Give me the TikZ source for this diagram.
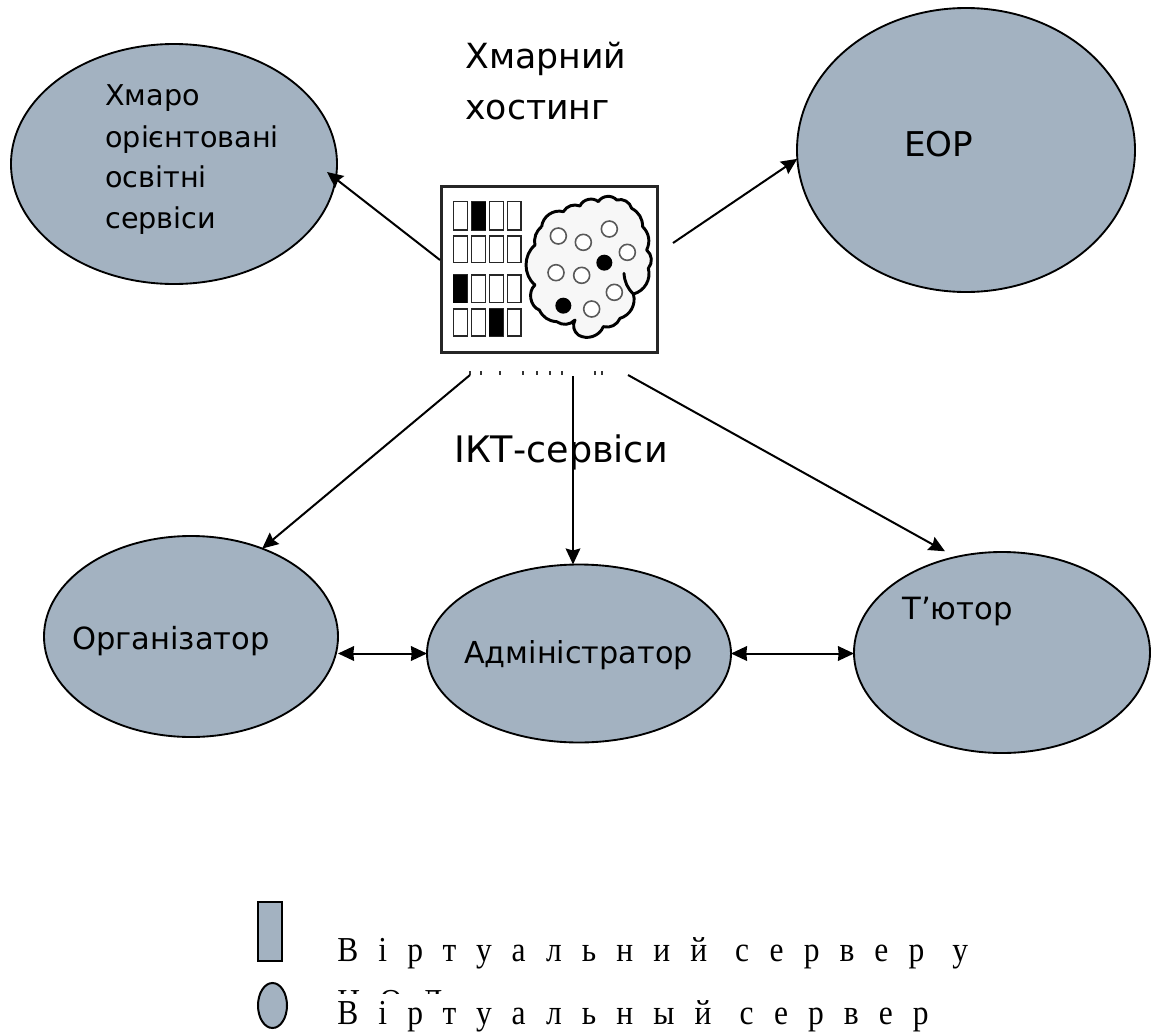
\documentclass[tikz,border=0pt]{standalone}
\usepackage{fontspec}
\setmainfont{DejaVu Sans}
\newfontfamily\legfont[FakeStretch=0.9,LetterSpace=57.5]{Liberation Serif}
\usetikzlibrary{shapes.geometric,arrows.meta}
\definecolor{bub}{HTML}{A3B2C1}
\tikzset{
  bubble/.style={ellipse,draw=black,fill=bub,line width=1.4pt,inner sep=0pt,outer sep=0pt},
  lab/.style={anchor=base west,inner sep=0pt,font=\fontsize{21.5pt}{32pt}\selectfont},
  biglab/.style={anchor=base west,inner sep=0pt,font=\fontsize{26pt}{39pt}\selectfont},
  conn/.style={line width=1.5pt,-{Stealth[length=12pt,width=11pt,inset=1.5pt]}},
  dconn/.style={line width=1.5pt,{Stealth[length=12pt,width=11pt,inset=0.5pt]}-{Stealth[length=12pt,width=11pt,inset=0.5pt]}},
  cell/.style={draw=black!85,line width=1pt},
  ring/.style={draw=black!65,line width=1.2pt,fill=white},
  legtext/.style={anchor=base west,inner sep=0pt,font=\legfont\fontsize{26.25pt}{30pt}\selectfont},
}
\begin{document}
\begin{tikzpicture}[x=0.75pt,y=-0.75pt]
\useasboundingbox (0,0) rectangle (1158,1032);
% ellipses
\node[bubble,minimum width=244.5pt,minimum height=180pt] (svc) at (174,164) {};
\node[bubble,minimum width=253.5pt,minimum height=213pt] (eop) at (966,150) {};
\node[bubble,minimum width=220.5pt,minimum height=150.75pt] (org) at (191,636.5) {};
\node[bubble,minimum width=228pt,minimum height=133.5pt] (adm) at (579,653.5) {};
\node[bubble,minimum width=222pt,minimum height=150.75pt] (tut) at (1002,652.5) {};
% labels
\node[biglab] (t1) at (465,68) {Хмарний};
\node[biglab] (t2) at (465,119) {хостинг};
\node[lab] (s1) at (105,105) {Хмаро};
\node[lab] (s2) at (105,147) {орієнтовані};
\node[lab] (s3) at (105,187) {освітні};
\node[lab] (s4) at (105,228) {сервіси};
\node[lab,font=\fontsize{25.6pt}{30pt}\selectfont] (teop) at (904,156) {ЕОР};
\node[lab,font=\fontsize{22.9pt}{30pt}\selectfont] (torg) at (72,649) {Організатор};
\node[lab,font=\fontsize{22.7pt}{30pt}\selectfont] (tadm) at (464,663) {Адміністратор};
\node[lab,font=\fontsize{23pt}{30pt}\selectfont] (ttut) at (902,619) {Т’ютор};
% icon
\node[draw=black!85,line width=2.4pt,fill=white,minimum width=162pt,minimum height=124.5pt,inner sep=0pt,outer sep=0pt] (host) at (549.5,269.5) {};
\begin{scope}[shift={(420,170)},x=0.25pt,y=-0.25pt]
  \foreach \x/\w in {100/42,155/42,208/42,262/41}{
    \foreach \y/\h in {95/85,198/80,315/83,417/81}{
      \draw[cell] (\x,\y) rectangle ++(\w,\h);
    }
  }
  \fill[black] (155,95) rectangle ++(42,85);
  \fill[black] (100,315) rectangle ++(42,83);
  \fill[black] (208,417) rectangle ++(42,81);
  \draw[line width=2.2pt,fill=black!3,line join=round]
    (365,170) to[bend left=50] (430,125) to[bend left=40] (480,108)
    to[bend left=55] (535,95) to[bend left=55] (590,90) to[bend left=45] (635,115)
    to[bend left=30] (668,170) to[bend left=35] (680,240) to[bend left=45] (685,295)
    to[bend left=45] (640,372) to[bend left=45] (600,445) to[bend left=40] (550,470)
    to[bend left=50] (475,495) to[bend left=40] (465,450) to[bend left=40] (410,455)
    to[bend left=30] (358,420) to[bend left=60] (345,345) to[bend left=50] (345,225)
    to[bend left=30] (365,170);
  \draw[line width=2.2pt,line cap=round] (612,310) to[bend right=20] (640,372);
  \foreach \x/\y in {415/198,490/217,568/177,622/247,408/308,485/316,583/367,515/417}{
    \draw[ring] (\x,\y) circle[radius=24];
  }
  \fill[black] (553,278) circle[radius=24];
  \fill[black] (430,407) circle[radius=24];
  \foreach \x in {150,183,240,310,350,390,425,525,545}{
    \fill[black!80] (\x-3,602) rectangle (\x+3,616);
  }
\end{scope}
% connector free ends
\coordinate (hL) at (440,260);
\coordinate (hR) at (673,243);
\coordinate (hO) at (470,375);
\coordinate (hA) at (573,376);
\coordinate (hT) at (628,375);
\coordinate (tipS) at (327,172);
\draw[conn] (hL) -- (tipS);
\draw[conn] (hR) -- (eop.183);
\draw[conn] (hO) -- (org.51);
\draw[conn] (hA) -- (hA |- adm.north);
\draw[conn,shorten >=9pt] (hT) -- (tut.116);
\draw[dconn] (org.east |- adm.center) -- (adm.west);
\draw[dconn] (adm.east) -- (adm.east -| tut.west);
\node[lab,font=\fontsize{27.4pt}{30pt}\selectfont] (tict) at (454,462) {ІКТ-сервіси};
% legend
\node[rectangle,draw=black,fill=bub,line width=1.5pt,minimum width=18pt,minimum height=44pt,inner sep=0pt,outer sep=0pt] (lrect) at (270,931.5) {};
\node[ellipse,draw=black,fill=bub,line width=1.5pt,minimum width=21.75pt,minimum height=33.75pt,inner sep=0pt,outer sep=0pt] (lell) at (272.5,1005.5) {};
\node[legtext] (l1) at (337,961) {Віртуальний сервер у};
\begin{scope}
  \clip (330,985) rectangle (500,993.3);
  \node[legtext] (l2) at (337,1013) {ЦОД};
\end{scope}
\node[legtext] (l3) at (337,1024.5) {Віртуальный сервер};
\end{tikzpicture}
\end{document}
